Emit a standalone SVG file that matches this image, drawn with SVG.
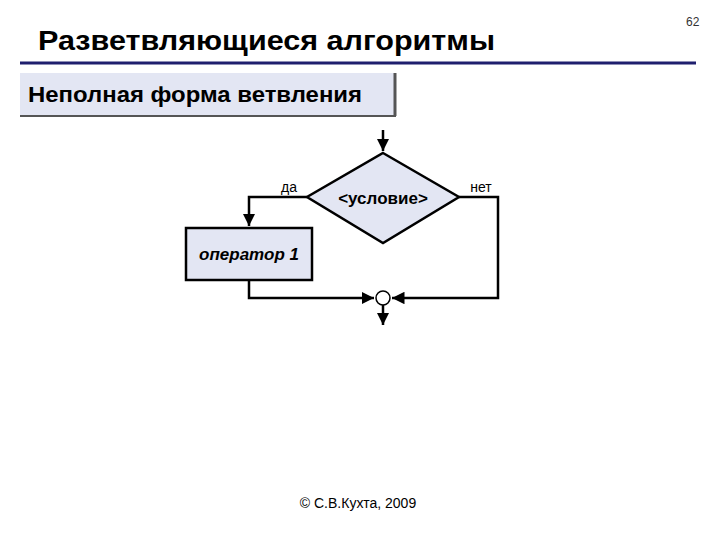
<svg xmlns="http://www.w3.org/2000/svg" width="720" height="540" viewBox="0 0 720 540">
<defs>
<marker id="ah" viewBox="0 0 10 10" refX="10" refY="5" markerWidth="5" markerHeight="5" orient="auto" markerUnits="strokeWidth"><path d="M0,0 L10,5 L0,10 z" fill="#000"/></marker>
<style>
.ln{fill:none;stroke:#000;stroke-width:2.5}
.sh{fill:#e3e6f3;stroke:#000;stroke-width:2.5}
text{font-family:"Liberation Sans",Arial,sans-serif}
</style>
</defs>
<rect width="720" height="540" fill="#fff"/>
<g id="header">
<text x="38" y="50" font-size="27" font-weight="bold" fill="#000" textLength="457" lengthAdjust="spacingAndGlyphs">Разветвляющиеся  алгоритмы</text>
<text x="686" y="26" font-size="12" fill="#333">62</text>
<line x1="20" y1="63" x2="696" y2="63" stroke="#1f1f6e" stroke-width="3"/>
</g>
<g id="subtitle">
<rect x="20" y="73" width="375" height="42" fill="#e3e6f3"/>
<line x1="395" y1="73" x2="395" y2="116" stroke="#555" stroke-width="3"/>
<line x1="20" y1="116" x2="396" y2="116" stroke="#555" stroke-width="2"/>
<text x="28" y="102" font-size="22" font-weight="bold" fill="#000" textLength="334" lengthAdjust="spacingAndGlyphs">Неполная форма ветвления</text>
</g>
<g id="connectors">
<path class="ln" d="M383,130 V151" marker-end="url(#ah)"/>
<path class="ln" d="M307,197 H249 V226" marker-end="url(#ah)"/>
<path class="ln" d="M459,197 H498 V298 H392" marker-end="url(#ah)"/>
<path class="ln" d="M249,280 V298 H374" marker-end="url(#ah)"/>
<path class="ln" d="M383,305 V325" marker-end="url(#ah)"/>
</g>
<g id="cond">
<polygon class="sh" points="383,153 459,197 383,243 307,197"/>
<text x="383" y="204" font-size="17" font-weight="bold" text-anchor="middle">&lt;условие&gt;</text>
</g>
<g id="labels">
<text x="289" y="192" font-size="14" text-anchor="middle">да</text>
<text x="481" y="192" font-size="14" text-anchor="middle">нет</text>
</g>
<g id="op1">
<rect class="sh" x="186" y="228" width="126" height="52"/>
<text x="249" y="260" font-size="17" font-weight="bold" font-style="italic" text-anchor="middle">оператор 1</text>
</g>
<g id="merge">
<circle cx="383" cy="298" r="7" fill="#fff" stroke="#000" stroke-width="1.5"/>
</g>
<g id="footer">
<text x="358" y="508" font-size="14" text-anchor="middle">© С.В.Кухта, 2009</text>
</g>
</svg>
